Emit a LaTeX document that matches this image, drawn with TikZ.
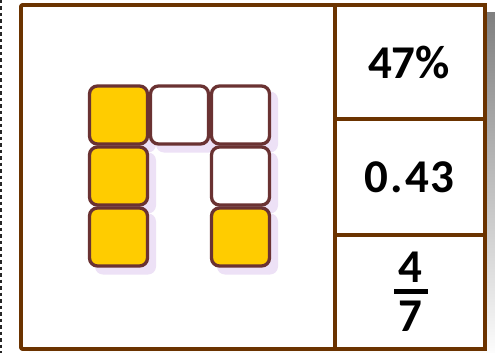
\documentclass[tikz,border=0pt]{standalone}
\usepackage{fontspec}
\setmainfont{Carlito}
\usetikzlibrary{positioning}
\definecolor{frameline}{HTML}{6B3300}
\definecolor{tileline}{HTML}{6A3232}
\definecolor{tilefill}{HTML}{FFCC00}
\definecolor{shade}{HTML}{EDE1F6}

\begin{document}
\begin{tikzpicture}[
  x=1pt,y=-1pt,
  font=\bfseries\fontsize{47}{47}\selectfont,
  tile/.style={draw=tileline,line width=3.3pt,rounded corners=8pt,minimum size=58pt,
               inner sep=0pt,fill=white},
  full/.style={tile,fill=tilefill},
  tileshade/.style={fill=shade,rounded corners=8pt,minimum size=61pt,inner sep=0pt},
  panel/.style={draw=frameline,line width=3.8pt,inner sep=0pt,minimum width=150pt},
  num/.style={inner sep=0pt,anchor=center}]
  \useasboundingbox (0,0) rectangle (495,353);
  % dashed edge on the left
  \draw[black!85,line width=2pt,dash pattern=on 3.5pt off 3pt] (0.9,0) -- (0.9,353);
  % shadow of the card
  \fill[shade] (29,13) rectangle (500,360);
  % board
  \node[panel,fill=white,rounded corners=2pt,minimum width=314pt,minimum height=344pt]
       (board) at (178,177) {};
  % tile shadows
  \foreach \c/\r in {1/1,2/1,3/1,1/2,3/2,1/3,3/3}
    \node[tileshade] (s\c\r) at (118.5+61*\c-61+7,115+61*\r-61+7) {};
  % tiles
  \node[full] (t11) at (118.5,115) {};
  \node[tile] (t21) at (179.5,115) {};
  \node[tile] (t31) at (240.5,115) {};
  \node[full] (t12) at (118.5,176) {};
  \node[tile] (t32) at (240.5,176) {};
  \node[full] (t13) at (118.5,237) {};
  \node[full] (t33) at (240.5,237) {};
  % answer cells
  \node[panel,fill=white,minimum height=114pt] (c1) at (410,62) {};
  \node[panel,fill=white,minimum height=116pt] (c2) at (410,177) {};
  \node[panel,fill=white,minimum height=114pt] (c3) at (410,292) {};
  \node[panel,rounded corners=2pt,minimum width=464pt,minimum height=344pt] (card) at (253,177) {};
  \node[num] (v1) at (409,62.5) {47\%};
  \node[num] (v2) at (409.5,177.5) {0\kern2.5pt.\kern2.5pt4\kern1pt3};
  \node[num] (v3n) at (410,267.5) {4};
  \node[num] (v3d) at (410,316) {7};
  \draw[line width=4.8pt] (394,291.5) -- (428,291.5);
\end{tikzpicture}
\end{document}
